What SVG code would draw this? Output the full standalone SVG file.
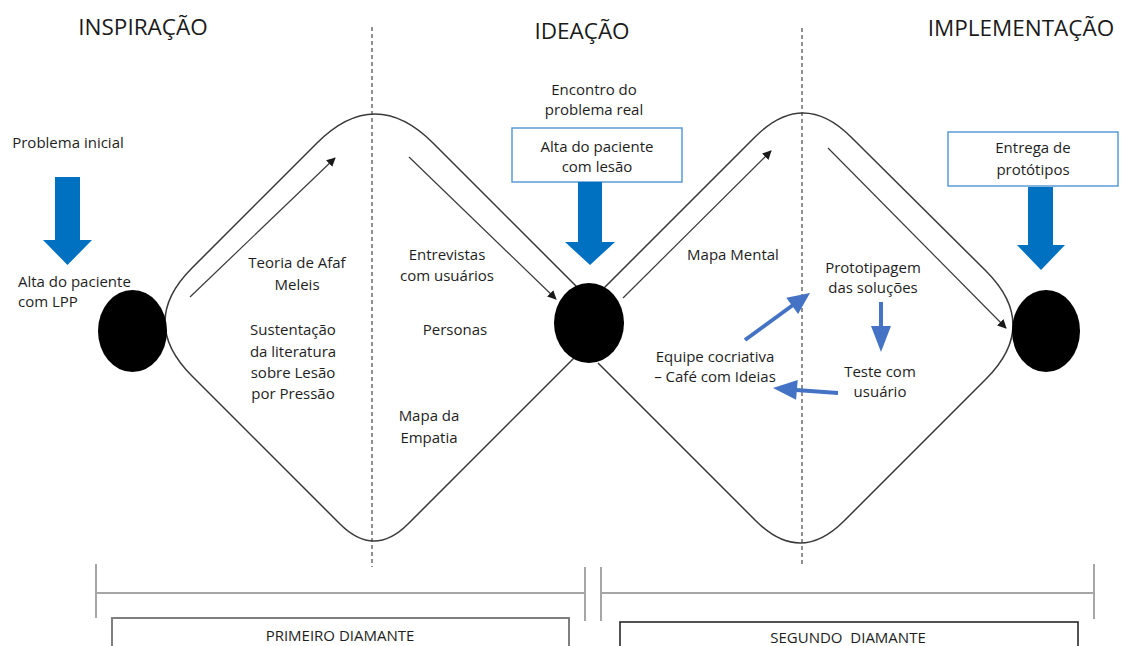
<svg xmlns="http://www.w3.org/2000/svg" width="1124" height="646" viewBox="0 0 1124 646">
<defs>
<style>
.t{font-family:"Open Sans","Liberation Sans",sans-serif;font-size:15px;fill:#1e1e1e;text-anchor:middle}
.l{text-anchor:start}
.h{font-family:"Open Sans","Liberation Sans",sans-serif;font-size:22.5px;fill:#1a1a1a;text-anchor:middle}
.b{font-family:"Open Sans","Liberation Sans",sans-serif;font-size:15px;fill:#1e1e1e;text-anchor:middle}
.dia{fill:none;stroke:#3a3a3a;stroke-width:1.5}
.thin{fill:none;stroke:#3a3a3a;stroke-width:1.2}
.dash{stroke:#555;stroke-width:1.3;stroke-dasharray:4 3}
.big{fill:#0070C0}
.sm{fill:none;stroke:#4472C4;stroke-width:4}
.smh{fill:#4472C4}
.node{fill:#000}
.bx{fill:#fff;stroke:#5B9BD5;stroke-width:1.5}
.br{stroke:#A6A6A6;stroke-width:2;fill:none}
</style>
<marker id="ah" viewBox="0 0 10 10" refX="9" refY="5" markerWidth="9" markerHeight="9" markerUnits="userSpaceOnUse" orient="auto">
<path d="M0,0 L10,5 L0,10 z" fill="#1a1a1a"/>
</marker>
</defs>
<rect width="1124" height="646" fill="#fff"/>

<g id="titles">
<text class="h" x="143" y="35">INSPIRAÇÃO</text>
<text class="h" x="582" y="39">IDEAÇÃO</text>
<text class="h" x="1021" y="36">IMPLEMENTAÇÃO</text>
</g>

<g id="dividers">
<line class="dash" x1="372" y1="27" x2="372" y2="567"/>
<line class="dash" x1="802" y1="28" x2="802" y2="565"/>
</g>

<g id="diamond1">
<path class="dia" d="M580,290 L433,143 Q375,85 317,143 L192,268 Q138,322 192,376 L340,524 Q374,558 408,524 L580,352"/>
</g>
<g id="diamond2">
<path class="dia" d="M598,294 L755,137 Q803,89 851,137 L986,271 Q1040,325 986,379 L844,521 Q800,565 756,521 L598,363"/>
</g>

<g id="connectors">
<line class="thin" x1="190" y1="297" x2="335" y2="158" marker-end="url(#ah)"/>
<line class="thin" x1="409" y1="157" x2="556" y2="299" marker-end="url(#ah)"/>
<line class="thin" x1="623" y1="298" x2="771" y2="151" marker-end="url(#ah)"/>
<line class="thin" x1="828" y1="148" x2="1006" y2="328" marker-end="url(#ah)"/>
<line class="sm" x1="745" y1="340" x2="793" y2="305"/>
<polygon class="smh" points="810,293 798.1,314 786.3,297.8"/>
<line class="sm" x1="881" y1="302" x2="881" y2="328"/>
<polygon class="smh" points="871,326 891,326 881,352"/>
<line class="sm" x1="838" y1="393" x2="796" y2="390"/>
<polygon class="smh" points="773,388 797.7,379.9 796.1,399.8"/>
</g>

<g id="node-inicio">
<ellipse class="node" cx="132.5" cy="331" rx="34.5" ry="41"/>
</g>
<g id="node-meio">
<ellipse class="node" cx="589" cy="323" rx="35" ry="40"/>
</g>
<g id="node-fim">
<ellipse class="node" cx="1046" cy="331" rx="34" ry="41"/>
</g>

<g id="problema-inicial">
<text class="t" x="68" y="148">Problema inicial</text>
<polygon class="big" points="55,177 80,177 80,240 92,240 67.5,265 43,240 55,240"/>
<text class="t l" x="18" y="287">Alta do paciente</text>
<text class="t l" x="18" y="307">com LPP</text>
</g>

<g id="problema-real">
<text class="t" x="594" y="95">Encontro do</text>
<text class="t" x="594" y="115">problema real</text>
<rect class="bx" x="512" y="128" width="170" height="54"/>
<text class="t" x="597" y="152">Alta do paciente</text>
<text class="t" x="597" y="172">com lesão</text>
<polygon class="big" points="578,182 602,182 602,242 615,242 590,265 565,242 578,242"/>
</g>

<g id="entrega">
<rect class="bx" x="948" y="132" width="170" height="54"/>
<text class="t" x="1033" y="153">Entrega de</text>
<text class="t" x="1033" y="175">protótipos</text>
<polygon class="big" points="1028,187 1053,187 1053,245 1065,245 1041,270 1017,245 1028,245"/>
</g>

<g id="labels-d1">
<text class="t" x="297" y="268">Teoria de Afaf</text>
<text class="t" x="297" y="290">Meleis</text>
<text class="t" x="293" y="335">Sustentação</text>
<text class="t" x="293" y="357">da literatura</text>
<text class="t" x="293" y="378">sobre Lesão</text>
<text class="t" x="293" y="399">por Pressão</text>
<text class="t" x="447" y="260">Entrevistas</text>
<text class="t" x="447" y="281">com usuários</text>
<text class="t" x="455" y="335">Personas</text>
<text class="t" x="429" y="421">Mapa da</text>
<text class="t" x="429" y="443">Empatia</text>
</g>

<g id="labels-d2">
<text class="t" x="733" y="260">Mapa Mental</text>
<text class="t" x="873" y="273">Prototipagem</text>
<text class="t" x="873" y="293">das soluções</text>
<text class="t" x="715" y="362">Equipe cocriativa</text>
<text class="t" x="715" y="382">– Café com Ideias</text>
<text class="t" x="880" y="377">Teste com</text>
<text class="t" x="880" y="397">usuário</text>
</g>

<g id="bracket1">
<line class="br" x1="96" y1="564" x2="96" y2="618"/>
<line class="br" x1="96" y1="593" x2="585" y2="593" stroke-width="3"/>
<line class="br" x1="585" y1="567" x2="585" y2="621"/>
</g>
<g id="bracket2">
<line class="br" x1="601" y1="567" x2="601" y2="621"/>
<line class="br" x1="601" y1="593" x2="1094" y2="593" stroke-width="3"/>
<line class="br" x1="1094" y1="564" x2="1094" y2="619"/>
</g>

<g id="primeiro-diamante">
<rect x="112" y="618" width="457" height="40" fill="#fff" stroke="#7f7f7f" stroke-width="2"/>
<text class="b" x="340" y="641">PRIMEIRO DIAMANTE</text>
</g>
<g id="segundo-diamante">
<rect x="620" y="622" width="458" height="40" fill="#fff" stroke="#1a1a1a" stroke-width="1.5"/>
<text class="b" x="848" y="643" xml:space="preserve">SEGUNDO  DIAMANTE</text>
</g>
</svg>
